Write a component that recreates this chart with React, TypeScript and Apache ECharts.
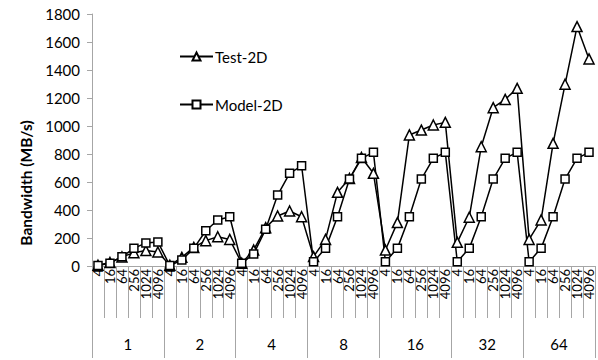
import React, { useEffect, useRef } from "react";
import * as echarts from "echarts";

const groups = ["1", "2", "4", "8", "16", "32", "64"];
const sizes = ["4", "16", "64", "256", "1024", "4096"];
const test2D = [
  5, 25, 65, 95, 110, 100,
  5, 62, 133, 181, 209, 190,
  20, 114, 274, 357, 393, 352,
  67, 190, 526, 625, 775, 662,
  114, 310, 936, 971, 1007, 1026,
  169, 348, 852, 1131, 1190, 1269,
  190, 329, 876, 1298, 1710, 1479,
];
const model2D = [
  3, 20, 66, 126, 165, 172,
  3, 43, 126, 252, 329, 352,
  19, 86, 262, 507, 662, 716,
  31, 126, 352, 621, 769, 812,
  31, 126, 352, 621, 769, 812,
  31, 126, 352, 621, 769, 812,
  31, 126, 352, 621, 769, 812,
];
const yTicks = { min: 0, max: 1800, interval: 200 };
const yTitle = "Bandwidth (MB/s)";

const categories: string[] = [];
groups.forEach((g) => sizes.forEach((s) => categories.push(s)));

const FONT = "Lato";
const GRAY = "#a6a6a6";

export default function App() {
  const ref = useRef<HTMLDivElement>(null);
  useEffect(() => {
    if (!ref.current) return;
    const chart = echarts.init(ref.current, null, { renderer: "svg" });
    chart.setOption({
      animation: false,
      textStyle: { fontFamily: FONT },
      grid: { left: 92, right: 3, top: 14, bottom: 94, containLabel: false },
      graphic: [
        {
          type: "text",
          x: 26,
          y: 183,
          rotation: Math.PI / 2,
          style: {
            text: yTitle,
            align: "center",
            verticalAlign: "middle",
            fontFamily: FONT,
            fontSize: 15.5,
            fontWeight: "bold",
            fill: "#000",
          },
        },
      ],
      legend: {
        orient: "vertical",
        left: 174,
        top: 44,
        itemGap: 33,
        itemWidth: 33,
        itemHeight: 10,
        textStyle: { fontFamily: FONT, fontSize: 15, color: "#000", padding: [0, 0, 0, -3] },
        data: ["Test-2D", "Model-2D"],
      },
      xAxis: [
        {
          type: "category",
          data: categories,
          position: "bottom",
          axisLine: { show: true, lineStyle: { color: GRAY, width: 1 } },
          axisTick: { show: true, length: 52, interval: 0, lineStyle: { color: GRAY } },
          axisLabel: {
            interval: 0,
            rotate: 90,
            margin: 3,
            fontSize: 13,
            color: "#000",
            fontFamily: FONT,
          },
        },
        {
          type: "category",
          data: groups,
          position: "bottom",
          axisLine: { show: false },
          axisTick: { show: true, length: 92, interval: 0, lineStyle: { color: GRAY } },
          axisLabel: { interval: 0, margin: 70, fontSize: 15, color: "#000", fontFamily: FONT },
        },
      ],
      yAxis: {
        type: "value",
        ...yTicks,
        axisLine: { show: true, lineStyle: { color: GRAY } },
        axisTick: { show: true, length: 5, lineStyle: { color: GRAY } },
        splitLine: { show: false },
        axisLabel: {
          fontSize: 15,
          color: "#000",
          margin: 12,
          fontFamily: FONT,
          formatter: (v: number) => String(v),
        },
      },
      series: [
        {
          name: "Test-2D",
          type: "line",
          xAxisIndex: 0,
          data: test2D,
          symbol: "triangle",
          symbolSize: 10,
          showAllSymbol: true,
          lineStyle: { color: "#000", width: 1.5 },
          itemStyle: { color: "#fff", borderColor: "#000", borderWidth: 1.5 },
        },
        {
          name: "Model-2D",
          type: "line",
          xAxisIndex: 0,
          data: model2D,
          symbol: "rect",
          symbolSize: 8,
          showAllSymbol: true,
          lineStyle: { color: "#000", width: 1.5 },
          itemStyle: { color: "#fff", borderColor: "#000", borderWidth: 1.5 },
        },
      ],
    });
    return () => chart.dispose();
  }, []);
  return <div ref={ref} style={{ width: 598, height: 360, position: "absolute", left: 0, top: 0 }} />;
}
